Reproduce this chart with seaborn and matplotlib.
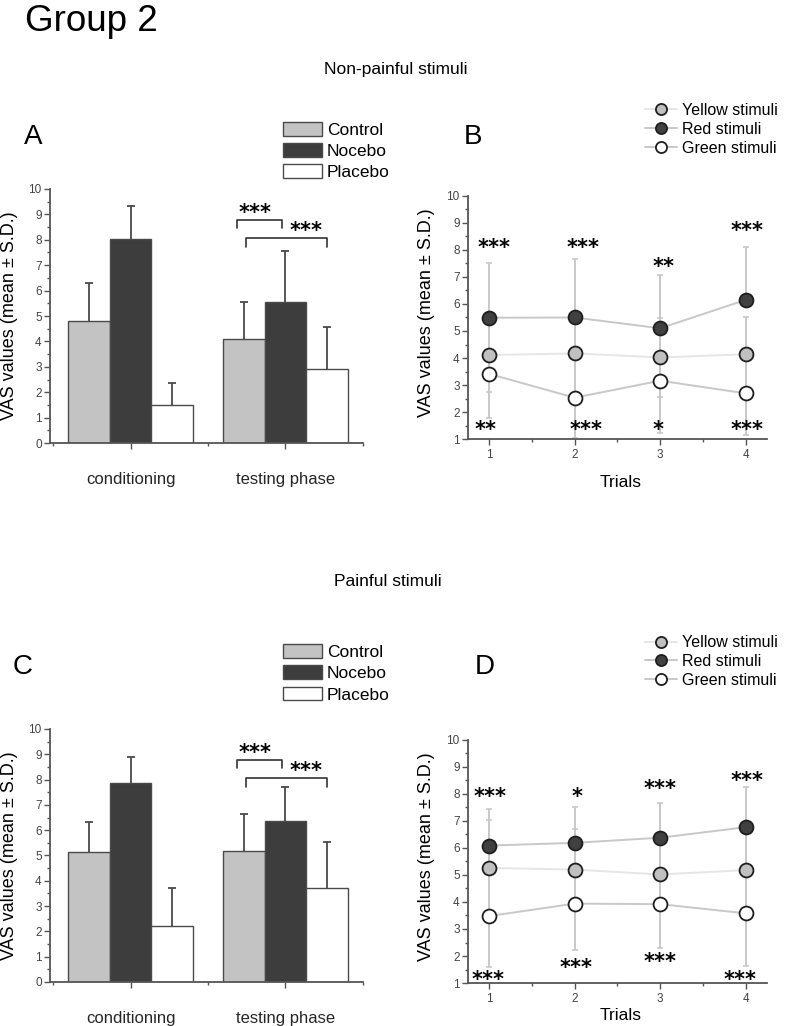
import pandas as pd
import matplotlib
matplotlib.use("Agg")
import matplotlib.pyplot as plt
from matplotlib.ticker import MultipleLocator
import seaborn as sns

# ---- data ----
phases = ["conditioning", "testing phase"]
groups = ["Control", "Nocebo", "Placebo"]

# bar panels: one list per group, values for [conditioning, testing phase]
a_control = [4.82, 4.10]
a_nocebo = [8.02, 5.56]
a_placebo = [1.48, 2.93]
a_control_sd = [1.48, 1.45]
a_nocebo_sd = [1.30, 1.98]
a_placebo_sd = [0.89, 1.65]

c_control = [5.13, 5.16]
c_nocebo = [7.88, 6.36]
c_placebo = [2.23, 3.73]
c_control_sd = [1.20, 1.47]
c_nocebo_sd = [1.00, 1.35]
c_placebo_sd = [1.50, 1.82]

# line panels
trials = [1, 2, 3, 4]
stimuli = ["Yellow stimuli", "Red stimuli", "Green stimuli"]

b_yellow = [4.11, 4.17, 4.02, 4.14]
b_red = [5.49, 5.50, 5.10, 6.15]
b_green = [3.41, 2.53, 3.16, 2.69]
b_yellow_sd = [1.37, 1.45, 1.46, 1.38]
b_red_sd = [2.04, 2.17, 1.97, 1.95]
b_green_sd = [1.64, 1.50, 1.94, 1.55]

d_yellow = [5.26, 5.20, 5.02, 5.18]
d_red = [6.09, 6.19, 6.38, 6.77]
d_green = [3.48, 3.94, 3.92, 3.58]
d_yellow_sd = [1.78, 1.50, 1.30, 1.40]
d_red_sd = [1.35, 1.33, 1.29, 1.49]
d_green_sd = [1.89, 1.72, 1.62, 1.95]

# significance stars above / below each trial
b_top_stars = ["***", "***", "**", "***"]
b_top_y = [8.18, 8.18, 7.50, 8.83]
b_bot_stars = ["**", "***", "*", "***"]
b_bot_y = [1.46, 1.46, 1.46, 1.46]
d_top_stars = ["***", "*", "***", "***"]
d_top_y = [8.00, 8.00, 8.30, 8.61]
d_bot_stars = ["***", "***", "***", "***"]
d_bot_y = [1.22, 1.66, 1.90, 1.22]

# ---- style ----
sns.set_theme(style="ticks")
plt.rcParams["font.family"] = ["Liberation Sans", "DejaVu Sans"]
plt.rcParams["text.color"] = "black"
plt.rcParams["axes.labelcolor"] = "black"
AX_COL = "#555555"
bar_colors = ["#c3c3c3", "#3d3d3d", "#ffffff"]
face_colors = ["#c0c0c0", "#404040", "#ffffff"]
line_colors = ["#e6e6e6", "#c8c8c8", "#c8c8c8"]


def style_axes(ax):
    for side in ["top", "right"]:
        ax.spines[side].set_visible(False)
    for side in ["left", "bottom"]:
        ax.spines[side].set_color(AX_COL)
        ax.spines[side].set_linewidth(1.3)
    ax.yaxis.set_minor_locator(MultipleLocator(0.5))
    ax.tick_params(which="both", direction="out", color=AX_COL, width=1.0)
    ax.tick_params(which="major", length=4)
    ax.tick_params(which="minor", length=2)
    ax.tick_params(axis="y", labelsize=8.5, labelcolor="#444444", pad=2)
    ax.set_ylabel("VAS values (mean \u00b1 S.D.)", fontsize=13)


def star_text(ax, x, y, s):
    # asterisks sit high in the glyph box, so nudge them down a bit
    ax.text(x, y - 0.12, s, ha="center", va="center", fontsize=15,
            fontweight="bold", family="DejaVu Sans", color="black")


def bar_panel(ax, means, sds, leg_anchor):
    df = pd.DataFrame({
        "phase": phases * 3,
        "group": [g for g in groups for _ in phases],
        "value": [v for m in means for v in m],
    })
    sns.barplot(data=df, x="phase", y="value", hue="group", order=phases,
                hue_order=groups, palette=bar_colors, width=0.81,
                edgecolor="#4a4a4a", linewidth=1.0, saturation=1,
                errorbar=None, ax=ax, zorder=2)
    for cont, sd in zip(ax.containers, sds):
        xs = [p.get_x() + p.get_width() / 2 for p in cont]
        hs = [p.get_height() for p in cont]
        eb = ax.errorbar(xs, hs, yerr=[[0] * len(sd), sd], fmt="none",
                         ecolor="#4a4a4a", elinewidth=1.3, capsize=3,
                         capthick=1.3, zorder=1)
        # only the upper cap is drawn (one-sided S.D.)
        eb[1][0].set_visible(False)
    ax.set_ylim(0, 10)
    ax.set_xlim(-0.52, 1.5)
    ax.yaxis.set_major_locator(MultipleLocator(1))
    ax.xaxis.set_minor_locator(MultipleLocator(0.5))
    style_axes(ax)
    ax.yaxis.set_label_coords(-0.102, 0.5)
    ax.set_xlabel("")
    ax.tick_params(axis="x", which="major", labelsize=12, pad=17)

    # comparison brackets in the testing phase
    ctl = ax.containers[0][1]
    noc = ax.containers[1][1]
    pla = ax.containers[2][1]
    c_x = ctl.get_x() + ctl.get_width() / 2
    n_x = noc.get_x() + noc.get_width() / 2
    p_x = pla.get_x() + pla.get_width() / 2
    ax.plot([c_x - 0.04, c_x - 0.04, n_x - 0.025, n_x - 0.025],
            [8.45, 8.77, 8.77, 8.45], color="#333333", lw=1.2)
    ax.plot([c_x + 0.015, c_x + 0.015, p_x, p_x],
            [7.72, 8.07, 8.07, 7.72], color="#333333", lw=1.2)
    star_text(ax, (c_x + n_x) / 2 - 0.06, 9.18, "***")
    star_text(ax, (c_x + p_x) / 2 + 0.13, 8.46, "***")

    ax.get_legend().remove()
    ax.legend(loc="upper left", bbox_to_anchor=leg_anchor,
              bbox_transform=ax.figure.transFigure, frameon=False,
              fontsize=12.5, handlelength=2.25, handleheight=0.85,
              handletextpad=0.3, labelspacing=0.3, borderpad=0,
              borderaxespad=0)


def line_panel(ax, series, sds, top, top_y, bot, bot_y, leg_anchor,
               top_dx, bot_dx, xlab_y):
    directions = ["both", "up", "down"]
    for name, m, s, face, lc, dr in zip(stimuli, series, sds, face_colors,
                                        line_colors, directions):
        lower = s if dr in ("down", "both") else [0] * len(s)
        upper = s if dr in ("up", "both") else [0] * len(s)
        ax.errorbar(trials, m, yerr=[lower, upper], fmt="none",
                    ecolor="#c8c8c8", elinewidth=1.4, capsize=2,
                    capthick=1.2, zorder=1)
    for name, m, face, lc in zip(stimuli, series, face_colors, line_colors):
        sns.lineplot(x=trials, y=m, color=lc, lw=1.4, marker="o",
                     markersize=10, markerfacecolor=face,
                     markeredgecolor="#1e1e1e", markeredgewidth=1.3,
                     label=name, ax=ax, zorder=3)
    for t, s, y, dx in zip(trials, top, top_y, top_dx):
        star_text(ax, t + dx, y, s)
    for t, s, y, dx in zip(trials, bot, bot_y, bot_dx):
        star_text(ax, t + dx, y, s)
    ax.set_ylim(1, 10)
    ax.set_xlim(0.75, 4.25)
    ax.set_xticks(trials)
    ax.yaxis.set_major_locator(MultipleLocator(1))
    ax.xaxis.set_minor_locator(MultipleLocator(0.5))
    style_axes(ax)
    ax.yaxis.set_label_coords(-0.112, 0.52)
    ax.tick_params(axis="x", which="major", labelsize=8.5,
                   labelcolor="#444444", pad=3)
    ax.set_xlabel("Trials", fontsize=12.5)
    ax.xaxis.set_label_coords(0.51, xlab_y)
    if ax.get_legend() is not None:
        ax.get_legend().remove()
    handles, labels = ax.get_legend_handles_labels()
    ax.legend(handles, labels, loc="upper left", bbox_to_anchor=leg_anchor,
              bbox_transform=ax.figure.transFigure, frameon=False,
              fontsize=11.5, handlelength=2.0, handletextpad=0.35,
              labelspacing=0.25, borderpad=0, borderaxespad=0,
              markerscale=0.8)


fig = plt.figure(figsize=(7.92, 10.26), dpi=100)
ax_a = fig.add_axes([0.0631, 0.5682, 0.3952, 0.2476])
ax_b = fig.add_axes([0.5909, 0.5721, 0.3775, 0.2369])
ax_c = fig.add_axes([0.0631, 0.0429, 0.3952, 0.2466])
ax_d = fig.add_axes([0.5909, 0.0419, 0.3775, 0.2369])

bar_panel(ax_a, [a_control, a_nocebo, a_placebo],
          [a_control_sd, a_nocebo_sd, a_placebo_sd], (0.357, 0.881))
bar_panel(ax_c, [c_control, c_nocebo, c_placebo],
          [c_control_sd, c_nocebo_sd, c_placebo_sd], (0.357, 0.372))

line_panel(ax_b, [b_yellow, b_red, b_green],
           [b_yellow_sd, b_red_sd, b_green_sd],
           b_top_stars, b_top_y, b_bot_stars, b_bot_y, (0.814, 0.900),
           [0.05, 0.10, 0.04, 0.02], [-0.05, 0.13, -0.02, 0.02], -0.148)
line_panel(ax_d, [d_yellow, d_red, d_green],
           [d_yellow_sd, d_red_sd, d_green_sd],
           d_top_stars, d_top_y, d_bot_stars, d_bot_y, (0.814, 0.381),
           [0.01, 0.03, 0.0, 0.02], [-0.01, 0.01, 0.0, -0.07], -0.103)

fig.text(0.032, 0.979, "Group 2", fontsize=26.5, ha="left", va="center")
fig.text(0.5, 0.932, "Non-painful stimuli", fontsize=12.5, ha="center",
         va="center")
fig.text(0.49, 0.433, "Painful stimuli", fontsize=12.5, ha="center",
         va="center")
for lab, x, y in [("A", 0.042, 0.866), ("B", 0.597, 0.866),
                  ("C", 0.029, 0.350), ("D", 0.612, 0.350)]:
    fig.text(x, y, lab, fontsize=20, ha="center", va="center")

fig.savefig("out.png", dpi=100)
